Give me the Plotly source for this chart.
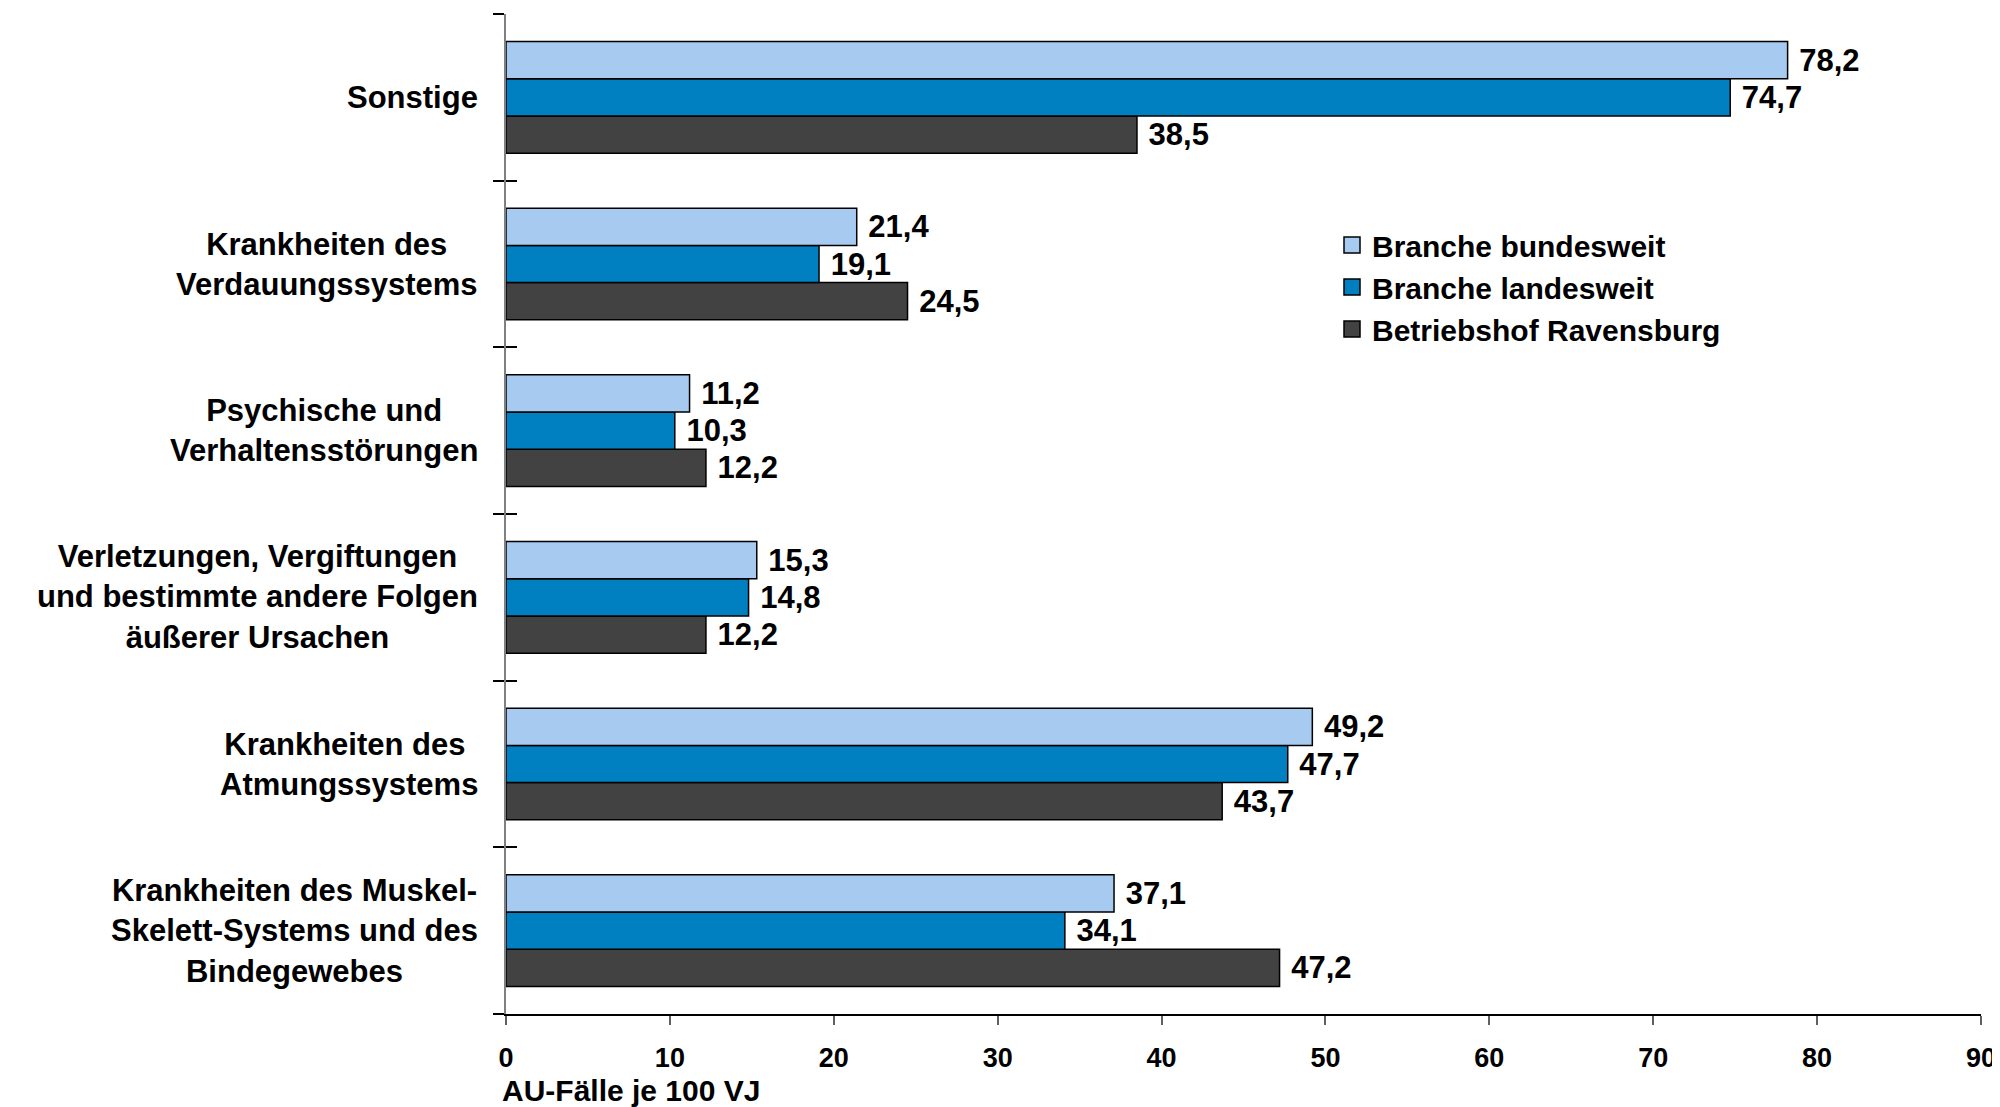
import plotly.graph_objects as go

categories = [
    "Krankheiten des Muskel-<br>Skelett-Systems und des<br>Bindegewebes",
    "Krankheiten des <br>Atmungssystems",
    "Verletzungen, Vergiftungen<br>und bestimmte andere Folgen<br>äußerer Ursachen",
    "Psychische und<br>Verhaltensstörungen",
    "Krankheiten des<br>Verdauungssystems",
    "Sonstige",
]
series_names = ["Branche bundesweit", "Branche landesweit", "Betriebshof Ravensburg"]
bundesweit = [37.1, 49.2, 15.3, 11.2, 21.4, 78.2]
landesweit = [34.1, 47.7, 14.8, 10.3, 19.1, 74.7]
ravensburg = [47.2, 43.7, 12.2, 12.2, 24.5, 38.5]
colors = ["#A6CAF0", "#0080C0", "#424242"]
x_ticks = [0, 10, 20, 30, 40, 50, 60, 70, 80, 90]
x_title = "AU-Fälle je 100 VJ"

FONT = "Liberation Sans, Arial, sans-serif"

fig = go.Figure()
series = [bundesweit, landesweit, ravensburg]
# add in reverse so that bundesweit is on top within each group
for name, vals, col in reversed(list(zip(series_names, series, colors))):
    fig.add_trace(go.Bar(
        y=categories, x=vals, orientation="h", name=name,
        marker=dict(color=col, line=dict(color="#000000", width=1.5)),
        text=[" " + f"{v:.1f}".replace(".", ",") for v in vals],
        textposition="outside", cliponaxis=False,
        textfont=dict(family=FONT, size=31, color="#000000", weight="bold"),
        showlegend=False,
    ))

# legend entries (square markers)
for name, col in zip(series_names, colors):
    fig.add_trace(go.Scatter(
        x=[None], y=[None], mode="markers", name=name,
        marker=dict(symbol="square", size=16, color=col,
                    line=dict(color="#000000", width=1.5)),
        showlegend=True, xaxis="x", yaxis="y2",
    ))

for cat in categories:
    fig.add_annotation(
        x=0, xref="paper", xanchor="right", xshift=-26,
        y=cat, yref="y", yanchor="middle",
        text=cat, showarrow=False, align="center",
        font=dict(family=FONT, size=31, color="#000000", weight="bold"),
    )

fig.add_annotation(
    x=0, xref="paper", xanchor="left", xshift=-5,
    y=0, yref="paper", yanchor="middle", yshift=-76,
    text=x_title, showarrow=False, borderpad=0,
    font=dict(family=FONT, size=30, color="#000000", weight="bold"),
)

fig.update_layout(
    width=1992, height=1099,
    margin=dict(l=498, r=19, t=6, b=93, autoexpand=False),
    paper_bgcolor="white", plot_bgcolor="white",
    barmode="group", bargap=0.33, bargroupgap=0,
    font=dict(family=FONT, color="#000000"),
    xaxis=dict(
        range=[0, 90], tickvals=x_ticks, ticks="outside", ticklen=9,
        tickcolor="#606060", tickwidth=1.5, showline=True, linecolor="#000000",
        linewidth=2, showgrid=False, zeroline=False, ticklabelstandoff=10,
        automargin=False,
        tickfont=dict(family=FONT, size=27, color="#000000", weight="bold"),
    ),
    yaxis=dict(
        type="category", categoryarray=categories, categoryorder="array",
        showticklabels=False, ticks="outside", tickson="boundaries",
        ticklen=11, tickcolor="#000000", tickwidth=1.5, automargin=False,
        showline=True, linecolor="#808080", linewidth=2, showgrid=False,
        zeroline=False,
    ),
    yaxis2=dict(
        overlaying="y", side="left", range=[-0.5, 5.5],
        tickvals=[-0.5, 0.5, 1.5, 2.5, 3.5, 4.5, 5.5], automargin=False,
        ticks="inside", ticklen=11, tickcolor="#000000", tickwidth=1.5,
        showticklabels=False, showline=False, showgrid=False, zeroline=False,
    ),
    legend=dict(
        x=0.56, y=0.795, xanchor="left", yanchor="top",
        bgcolor="rgba(0,0,0,0)", itemsizing="trace",
        font=dict(family=FONT, size=30, color="#000000", weight="bold"),
        tracegroupgap=0,
    ),
)

fig.write_html("out.html")
